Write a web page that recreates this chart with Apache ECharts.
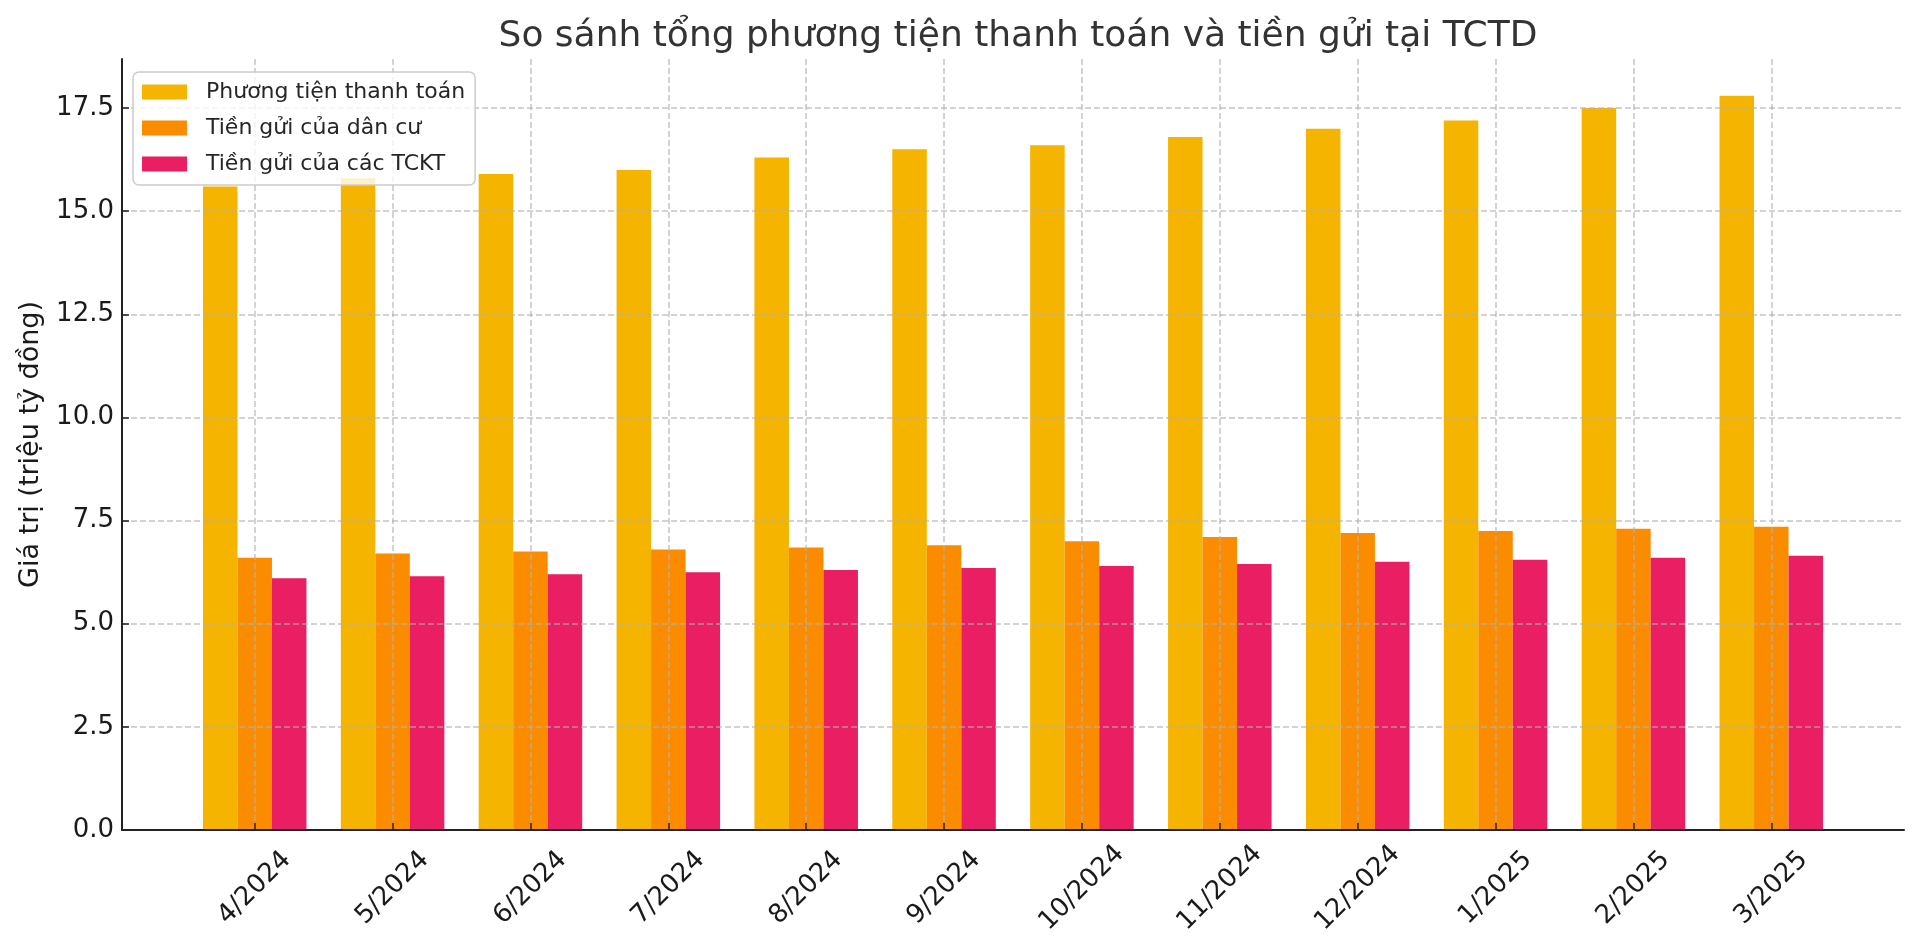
<!DOCTYPE html>
<html>
<head>
<meta charset="utf-8">
<script src="https://cdn.jsdelivr.net/npm/echarts@6/dist/echarts.min.js"></script>
<style>html,body{margin:0;padding:0;background:#fff}#c{width:1920px;height:952px}</style>
</head>
<body>
<div id="c"></div>
<script>
const categories = ['4/2024','5/2024','6/2024','7/2024','8/2024','9/2024','10/2024','11/2024','12/2024','1/2025','2/2025','3/2025'];
const seriesNames = ['Phương tiện thanh toán','Tiền gửi của dân cư','Tiền gửi của các TCKT'];
const phuongTienThanhToan = [15.6,15.8,15.9,16.0,16.3,16.5,16.6,16.8,17.0,17.2,17.5,17.8];
const tienGuiDanCu = [6.6,6.7,6.75,6.8,6.85,6.9,7.0,7.1,7.2,7.25,7.3,7.35];
const tienGuiTCKT = [6.1,6.15,6.2,6.25,6.3,6.35,6.4,6.45,6.5,6.55,6.6,6.65];
const yTickValues = [0,2.5,5,7.5,10,12.5,15,17.5];
const xTickValues = categories.map((_, i) => i);
const colors = ['#F4B400','#FB8C00','#E91E63'];

const FONT = 'DejaVu Sans';
const gridLine = {show:true, lineStyle:{color:'rgba(176,176,176,0.75)', width:1.5, type:[6,3]}};

const chart = echarts.init(document.getElementById('c'), null, {renderer:'canvas'});
const mk = (name, vals, color) => ({
  name: name, type:'bar', barWidth:34.5, barGap:'0%',
  data: vals.map((v,i)=>[i,v]),
  itemStyle:{color:color}
});
chart.setOption({
  animation:false,
  backgroundColor:'#ffffff',
  title:{text:'So sánh tổng phương tiện thanh toán và tiền gửi tại TCTD', left:1013, top:14, textAlign:'center',
    textStyle:{fontFamily:FONT, fontSize:36, fontWeight:'normal', color:'#333333'}},
  legend:{orient:'vertical', left:133, top:72, padding:[9,10,10,9], itemWidth:45, itemHeight:15, itemGap:14,
    icon:'rect', backgroundColor:'rgba(255,255,255,0.8)', borderColor:'#cccccc', borderWidth:1.5, borderRadius:6, z:10,
    textStyle:{fontFamily:FONT, fontSize:22, color:'#262626', padding:[0,0,0,14], lineHeight:22},
    data: seriesNames},
  grid:{left:122, right:16, top:59, bottom:122},
  xAxis:{type:'value', min:-0.9625, max:11.9625, z:3,
    axisLine:{show:true, onZero:false, lineStyle:{color:'#222222', width:2}},
    axisTick:{show:true, inside:true, length:7, customValues:xTickValues, lineStyle:{color:'#222222', width:1.5}},
    axisLabel:{customValues:xTickValues, formatter:(v)=>categories[Math.round(v)], rotate:45, align:'center', verticalAlign:'middle',
      margin:58, fontFamily:FONT, fontSize:26, color:'#1a1a1a'},
    splitLine:gridLine},
  yAxis:{type:'value', min:0, max:18.69, z:3,
    name:'Giá trị (triệu tỷ đồng)', nameLocation:'middle', nameGap:78,
    nameTextStyle:{fontFamily:FONT, fontSize:27, color:'#1a1a1a'},
    axisLine:{show:true, onZero:false, lineStyle:{color:'#222222', width:2}},
    axisTick:{show:true, inside:true, length:7, customValues:yTickValues, lineStyle:{color:'#222222', width:1.5}},
    axisLabel:{customValues:yTickValues, formatter:(v)=>v.toFixed(1), margin:8, fontFamily:FONT, fontSize:26, color:'#1a1a1a'},
    splitLine:gridLine},
  series:[
    mk(seriesNames[0], phuongTienThanhToan, colors[0]),
    mk(seriesNames[1], tienGuiDanCu, colors[1]),
    mk(seriesNames[2], tienGuiTCKT, colors[2])
  ]
});
</script>
</body>
</html>
